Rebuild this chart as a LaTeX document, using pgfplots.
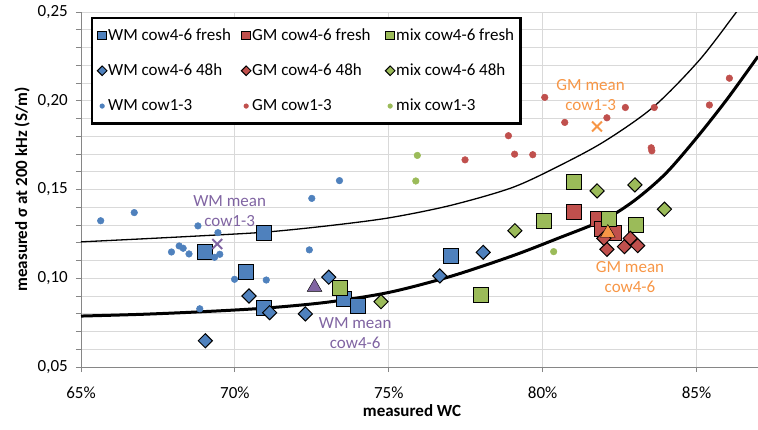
\documentclass[border=0pt]{standalone}
\usepackage{fontspec}
\setmainfont{Carlito}
\usepackage{pgfplots}
\pgfplotsset{compat=1.18}
\definecolor{cblue}{HTML}{4F81BD}
\definecolor{cred}{HTML}{C0504D}
\definecolor{cgreen}{HTML}{9BBB59}
\definecolor{cpurple}{HTML}{8064A2}
\definecolor{corange}{HTML}{F79646}
\definecolor{gridgray}{HTML}{D9D9D9}
\definecolor{axisgray}{HTML}{868686}
\begin{document}
\fontsize{17}{21}\selectfont
\begin{tikzpicture}
\begin{axis}[
  name=ax, at={(0,0)}, anchor=south west,
  scale only axis, width=677pt, height=355pt,
  xmin=65, xmax=87, ymin=0.05, ymax=0.25,
  axis lines*=left,
  xtick={65,70,75,80,85}, xticklabels={65\%,70\%,75\%,80\%,85\%},
  ytick={0.05,0.10,0.15,0.20,0.25}, yticklabels={{0,05},{0,10},{0,15},{0,20},{0,25}},
  minor ytick={0.06,0.07,0.08,0.09,0.11,0.12,0.13,0.14,0.16,0.17,0.18,0.19,0.21,0.22,0.23,0.24},
  grid=both,
  major grid style={draw=gridgray, line width=0.9pt},
  minor grid style={draw=gridgray, line width=0.9pt},
  tick align=outside, major tick length=5pt, minor tick length=5pt,
  tick style={draw=axisgray, line width=0.9pt},
  axis line style={draw=axisgray, line width=0.9pt},
  tick label style={font=\fontsize{17}{21}\selectfont},
  xticklabel style={anchor=center, yshift=-21pt},
  yticklabel style={anchor=east, inner sep=0pt, xshift=-8pt},
  xlabel={\bfseries measured WC},
  ylabel={\bfseries measured σ at 200 kHz (S/m)},
  every axis x label/.style={at={(axis description cs:0.489,0)}, anchor=center, yshift=-44pt, font=\fontsize{17}{21}\selectfont},
  every axis y label/.style={at={(axis description cs:-0.0871,0.5)}, rotate=90, anchor=center, font=\fontsize{17}{21}\selectfont},
  legend columns=3,
  legend cell align=left,
  legend image code/.code={\path[draw=none,fill=none] (0pt,-5pt) (10pt,5pt); \draw[#1] plot coordinates {(5pt,0pt)};},
  legend style={at={(0.0162,0.983)}, anchor=north west, draw=none, fill=white, name=leg,
    inner xsep=5pt, inner ysep=9pt, row sep=19pt, column sep=0pt, font=\fontsize{17}{21}\selectfont,
    nodes={inner sep=1pt}},
  clip=true,
]
% model curves
\addplot[forget plot, black, line width=1.3pt, smooth] coordinates {
 (65,0.1205) (67,0.1222) (69,0.1240) (71,0.1260) (73,0.1295) (75,0.1340) (77,0.1410)
 (79,0.1510) (80.5,0.1630) (82,0.1770) (83.6,0.1965) (85.1,0.2230) (86.3,0.2500) (86.7,0.2590)};
\addplot[forget plot, black, line width=3pt, smooth] coordinates {
 (65,0.0787) (67,0.0797) (69,0.0812) (71,0.0832) (73,0.0865) (75,0.0920) (77,0.1010)
 (79,0.1125) (80.5,0.1225) (82,0.1330) (83,0.1440) (84,0.1590) (85,0.1790) (86,0.2010) (87,0.2250)};
% fresh
\addplot[only marks, mark=square*, mark size=7.5pt, mark options={draw=black, fill=cblue, line width=1pt},
  legend image post style={mark size=4.2pt, line width=0.6pt}] coordinates {
 (69.02,0.1147) (70.37,0.1037) (70.96,0.1254) (70.96,0.0831) (73.56,0.0882) (73.99,0.0845) (77.02,0.1127)};
\addlegendentry{\makebox[132pt][l]{WM cow4-6 fresh}}
\addplot[only marks, mark=square*, mark size=7.5pt, mark options={draw=black, fill=cred, line width=1pt},
  legend image post style={mark size=4.2pt, line width=0.6pt}] coordinates {
 (81.01,0.1372) (81.80,0.1334) (81.93,0.1280) (82.31,0.1255)};
\addlegendentry{\makebox[132pt][l]{GM cow4-6 fresh}}
\addplot[only marks, mark=square*, mark size=7.5pt, mark options={draw=black, fill=cgreen, line width=1pt},
  legend image post style={mark size=4.2pt, line width=0.6pt}] coordinates {
 (81.01,0.1544) (82.15,0.1332) (83.03,0.1300) (80.04,0.1324) (78.01,0.0906) (73.42,0.0944)};
\addlegendentry{mix cow4-6 fresh}
% 48h
\addplot[only marks, mark=square*, mark size=5pt, mark options={rotate=45, draw=black, fill=cblue, line width=1pt},
  legend image post style={mark size=3.4pt, line width=0.6pt}] coordinates {
 (69.04,0.0648) (70.46,0.0900) (71.13,0.0806) (72.29,0.0799) (73.05,0.1006) (76.66,0.1013) (78.07,0.1146)};
\addlegendentry{\makebox[132pt][l]{WM cow4-6 48h}}
\addplot[only marks, mark=square*, mark size=5pt, mark options={rotate=45, draw=black, fill=cred, line width=1pt},
  legend image post style={mark size=3.4pt, line width=0.6pt}] coordinates {
 (82.09,0.1163) (82.66,0.1178) (83.09,0.1184) (82.85,0.1225) (81.99,0.1225)};
\addlegendentry{\makebox[132pt][l]{GM cow4-6 48h}}
\addplot[only marks, mark=square*, mark size=5pt, mark options={rotate=45, draw=black, fill=cgreen, line width=1pt},
  legend image post style={mark size=3.4pt, line width=0.6pt}] coordinates {
 (81.77,0.1492) (83.00,0.1526) (83.96,0.1389) (79.10,0.1268) (74.75,0.0868)};
\addlegendentry{mix cow4-6 48h}
% cow1-3
\addplot[only marks, mark=*, mark size=3.3pt, mark options={draw=cblue, fill=cblue, line width=0.5pt},
  legend image post style={mark size=2.3pt}] coordinates {
 (65.64,0.1324) (66.73,0.1370) (68.80,0.1295) (69.45,0.1257) (67.94,0.1148) (68.19,0.1182)
 (68.32,0.1169) (68.51,0.1137) (69.34,0.1118) (69.51,0.1135) (69.99,0.0994) (71.02,0.0990)
 (72.42,0.1160) (68.86,0.0828) (73.40,0.1550) (72.50,0.1450)};
\addlegendentry{\makebox[132pt][l]{WM cow1-3}}
\addplot[only marks, mark=*, mark size=3.3pt, mark options={draw=cred, fill=cred, line width=0.5pt},
  legend image post style={mark size=2.3pt}] coordinates {
 (80.07,0.2019) (80.72,0.1878) (82.09,0.1904) (82.69,0.1962) (83.63,0.1962) (83.53,0.1735)
 (83.55,0.1718) (85.42,0.1976) (86.07,0.2127) (78.89,0.1803) (79.09,0.1699) (79.68,0.1696) (77.48,0.1667)};
\addlegendentry{\makebox[132pt][l]{GM cow1-3}}
\addplot[only marks, mark=*, mark size=3.3pt, mark options={draw=cgreen, fill=cgreen, line width=0.5pt},
  legend image post style={mark size=2.3pt}] coordinates {
 (75.93,0.1692) (75.88,0.1548) (80.36,0.1150)};
\addlegendentry{mix cow1-3}
% means
\addplot[forget plot, only marks, mark=x, mark size=7pt, mark options={draw=cpurple, line width=2pt}] coordinates {(69.43,0.1193)};
\addplot[forget plot, only marks, mark=triangle*, mark size=8.5pt, mark options={draw=none, fill=cpurple}] coordinates {(72.59,0.0950)};
\addplot[forget plot, only marks, mark=x, mark size=7pt, mark options={draw=corange, line width=2pt}] coordinates {(81.77,0.1855)};
\addplot[forget plot, only marks, mark=triangle*, mark size=8.5pt, mark options={draw=none, fill=corange}] coordinates {(82.12,0.1255)};
% annotations
\node[text=cpurple, align=center, font=\fontsize{17}{20}\selectfont] at (axis cs:69.83,0.1379) {WM mean\\cow1-3};
\node[text=cpurple, align=center, font=\fontsize{17}{20}\selectfont] at (axis cs:73.91,0.0689) {WM mean\\cow4-6};
\node[text=corange, align=center, font=\fontsize{17}{20}\selectfont] at (axis cs:81.56,0.2030) {GM mean\\cow1-3};
\node[text=corange, align=center, font=\fontsize{17}{20}\selectfont] at (axis cs:82.84,0.1007) {GM mean\\cow4-6};
\end{axis}
\draw[black, line width=2.5pt] (leg.south west) rectangle (leg.north east);
\pgfresetboundingbox
\path[use as bounding box] (-81pt,-62pt) rectangle (677pt,367pt);
\end{tikzpicture}
\end{document}
